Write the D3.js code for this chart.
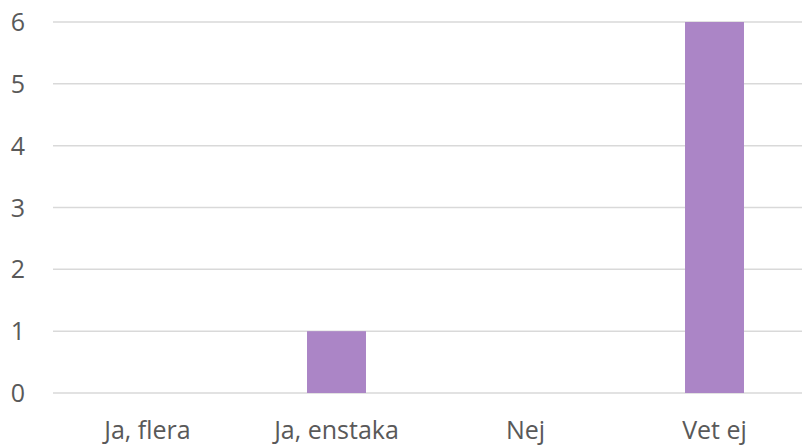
<!DOCTYPE html>
<html>
<head>
<meta charset="utf-8">
<script src="https://cdn.jsdelivr.net/npm/d3@7"></script>
<style>
  body { margin: 0; background: #fff; }
  text { font-family: "Open Sans", "Liberation Sans", sans-serif; fill: #595959; }
</style>
</head>
<body>
<div id="chart"></div>
<script>
// answers and counts
var categories = ["Ja, flera", "Ja, enstaka", "Nej", "Vet ej"];
var counts = [0, 1, 0, 6];
var yTicks = [0, 1, 2, 3, 4, 5, 6];

var width = 802, height = 448;

var svg = d3.select("#chart")
  .append("svg")
    .attr("width", width)
    .attr("height", height);

var x = d3.scaleBand()
  .domain(categories)
  .range([53, 809])
  .paddingInner(0.688)
  .paddingOuter(0.344);

var y = d3.scaleLinear()
  .domain([0, 6])
  .range([393, 22]);

// gridlines
svg.append("g")
  .selectAll("line")
  .data(yTicks)
  .enter().append("line")
    .attr("x1", 53)
    .attr("x2", width)
    .attr("y1", function(d) { return y(d); })
    .attr("y2", function(d) { return y(d); })
    .attr("stroke", "#d9d9d9")
    .attr("stroke-width", 1.5);

// y labels
svg.append("g")
  .selectAll("text")
  .data(yTicks)
  .enter().append("text")
    .attr("x", 25)
    .attr("y", function(d) { return y(d); })
    .attr("dy", "0.36em")
    .attr("text-anchor", "end")
    .attr("font-size", 25)
    .text(function(d) { return d; });

// bars
svg.append("g")
  .selectAll("rect")
  .data(counts)
  .enter().append("rect")
    .attr("x", function(d, i) { return x(categories[i]); })
    .attr("y", function(d) { return y(d); })
    .attr("width", x.bandwidth())
    .attr("height", function(d) { return y(0) - y(d); })
    .attr("fill", "#ab85c6");

// x labels
svg.append("g")
  .selectAll("text")
  .data(categories)
  .enter().append("text")
    .attr("x", function(d) { return x(d) + x.bandwidth() / 2; })
    .attr("y", 439)
    .attr("text-anchor", "middle")
    .attr("font-size", 25)
    .text(function(d) { return d; });
</script>
</body>
</html>
